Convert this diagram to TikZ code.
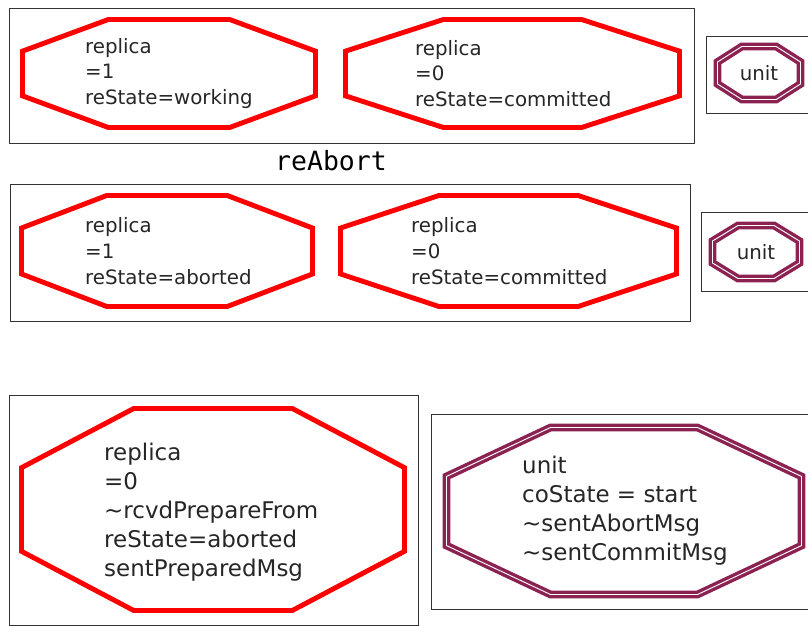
\documentclass[tikz,border=0pt]{standalone}
\usepackage{fontspec}
\setmainfont{DejaVu Sans}
\setmonofont{DejaVu Sans Mono}
\definecolor{unitcol}{RGB}{139,34,82}
% octagon: centre x, centre y, half width, half height, style
\newcommand\octa[5]{%
  \draw[#5] ({#1-0.414*#3},{#2-#4})--({#1+0.414*#3},{#2-#4})--({#1+#3},{#2-0.414*#4})
    --({#1+#3},{#2+0.414*#4})--({#1+0.414*#3},{#2+#4})--({#1-0.414*#3},{#2+#4})
    --({#1-#3},{#2+0.414*#4})--({#1-#3},{#2-0.414*#4})--cycle;}
\begin{document}
\begin{tikzpicture}[x=0.03cm, y=-0.03cm, line join=miter]
	\tikzset{frame/.style={draw=black!80, line width=0.8pt},
		replica/.style={draw=red, line width=4.2pt},
		unitoct/.style={draw=unitcol, line width=2.9pt, double=white, double distance=0.8pt},
		lbl/.style={anchor=west, align=left, inner sep=0pt, text=black!85, font=\fontsize{16.9}{22}\selectfont},
		biglbl/.style={lbl, font=\fontsize{19.6}{24.7}\selectfont}}
	\useasboundingbox (0,0) rectangle (808,626);
	% first state
	\draw[frame] (9,8) rectangle (694,143);
	\octa{169}{73.5}{146.5}{54}{replica}
	\octa{512.5}{73.5}{167}{54}{replica}
	\node[lbl] (r1a) at (85,73.5) {replica\\=1\\reState=working};
	\node[lbl] (r0a) at (415,73.5) {replica\\=0\\reState=committed};
	\draw[frame] (706,36) rectangle (812,113);
	\octa{759}{73}{41.5}{26.5}{unitoct}
	\node[lbl, anchor=center] (ua) at (759,73) {unit};
	% action
	\node[font=\ttfamily\fontsize{22.6}{26}\selectfont] (act) at (331,161) {reAbort};
	% second state
	\draw[frame] (10,184) rectangle (690,321);
	\octa{167}{251}{145.5}{55.5}{replica}
	\octa{508.5}{251}{168}{55.5}{replica}
	\node[lbl] (r1b) at (85,251) {replica\\=1\\reState=aborted};
	\node[lbl] (r0b) at (411,251) {replica\\=0\\reState=committed};
	\draw[frame] (701,212) rectangle (812,291);
	\octa{756}{252}{43.5}{26.5}{unitoct}
	\node[lbl, anchor=center] (ub) at (756,252) {unit};
	% details
	\draw[frame] (9,395) rectangle (418,625);
	\octa{213}{509.5}{191.5}{101}{replica}
	\node[biglbl] (r0c) at (104,512) {replica\\=0\\\textasciitilde rcvdPrepareFrom\\reState=aborted\\sentPreparedMsg};
	\draw[frame] (431,414) rectangle (812,609);
	\octa{624}{511}{177.5}{83.5}{unitoct}
	\node[biglbl] (uc) at (522,511) {unit\\coState = start\\\textasciitilde sentAbortMsg\\\textasciitilde sentCommitMsg};
\end{tikzpicture}
\end{document}
